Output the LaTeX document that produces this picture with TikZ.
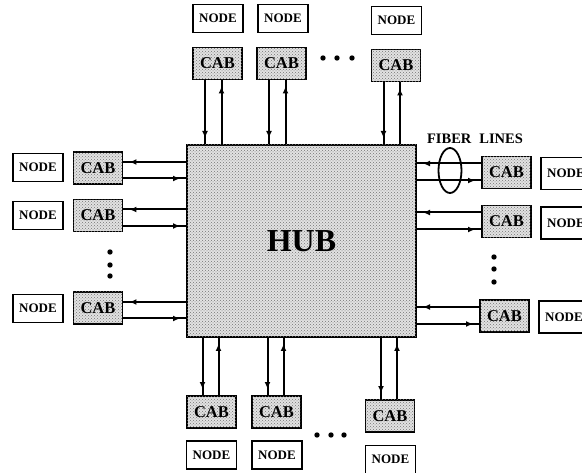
\documentclass[tikz,border=0pt]{standalone}
\usepackage{fontspec}
\setmainfont{Liberation Serif}
\usetikzlibrary{arrows.meta,decorations.markings,shapes.geometric,patterns}
\definecolor{stipple}{RGB}{226,226,226}

\begin{document}
\begin{tikzpicture}[x=1pt, y=-1pt,
    dotted fill/.style={fill=stipple, postaction={pattern=crosshatch dots, pattern color=black!55}},
    nd/.style={draw, line width=1.8pt, fill=white, minimum width=50pt, minimum height=28pt,
               inner sep=0pt, font=\bfseries\fontsize{13}{13}\selectfont},
    cab/.style={draw, line width=1.9pt, dotted fill, minimum width=49pt, minimum height=32pt,
                inner sep=0pt, font=\bfseries\fontsize{16.5}{16.5}\selectfont},
    ln/.style={line width=2pt, postaction={decorate},
               decoration={markings, mark=at position -6pt with {\arrow{Latex[length=7pt,width=6pt]}}}}]
    \clip (0,0) rectangle (582,473);
    \fill[white] (0,0) rectangle (582,473);

    % the hub
    \node[draw, line width=2pt, dotted fill, minimum width=229pt, minimum height=192pt,
          font=\bfseries\fontsize{32}{32}\selectfont] (hub) at (301.5,241) {HUB};

    % top row
    \node[nd]  (nt1) at (218,18.5)   {NODE};
    \node[nd]  (nt2) at (283,18.5)   {NODE};
    \node[nd]  (nt3) at (396.5,20.5) {NODE};
    \node[cab] (ct1) at (217.5,63.5) {CAB};
    \node[cab] (ct2) at (281.5,63.5) {CAB};
    \node[cab] (ct3) at (396,65.5)   {CAB};

    % left column
    \node[nd]  (nl1) at (38,167.5) {NODE};
    \node[nd]  (nl2) at (38,215.5) {NODE};
    \node[nd]  (nl3) at (38,308.5) {NODE};
    \node[cab] (cl1) at (98,168)   {CAB};
    \node[cab] (cl2) at (98,215.5) {CAB};
    \node[cab] (cl3) at (98,308)   {CAB};

    % right column
    \node[cab] (cr1) at (506.5,172.5) {CAB};
    \node[cab] (cr2) at (506.5,221.5) {CAB};
    \node[cab] (cr3) at (504.5,316)   {CAB};
    \node[nd, minimum height=32pt] (nr1) at (566,173.5) {NODE};
    \node[nd, minimum height=32pt] (nr2) at (566,223)   {NODE};
    \node[nd, minimum height=32pt] (nr3) at (564,317)   {NODE};

    % bottom row
    \node[cab] (cb1) at (211.5,412) {CAB};
    \node[cab] (cb2) at (276.5,412) {CAB};
    \node[cab] (cb3) at (390,416)   {CAB};
    \node[nd]  (nb1) at (211.5,455) {NODE};
    \node[nd]  (nb2) at (277,455)   {NODE};
    \node[nd]  (nb3) at (390.5,459.5) {NODE};

    % fiber lines
    \foreach \c in {ct1,ct2,ct3} {
      \draw[ln] ([xshift=-12.5pt]\c.south) -- ([xshift=-12.5pt]\c.south |- hub.north);
      \draw[ln] ([xshift=4pt]\c.south |- hub.north) -- ([xshift=4pt]\c.south);
    }
    \foreach \c in {cb1,cb2,cb3} {
      \draw[ln] ([xshift=-9pt]\c.north |- hub.south) -- ([xshift=-9pt]\c.north);
      \draw[ln] ([xshift=7pt]\c.north) -- ([xshift=7pt]\c.north |- hub.south);
    }
    \foreach \c in {cl1,cl2,cl3} {
      \draw[ln] ([yshift=6pt]\c.east -| hub.west) -- ([yshift=6pt]\c.east);
      \draw[ln] ([yshift=-10.5pt]\c.east) -- ([yshift=-10.5pt]\c.east -| hub.west);
    }
    \foreach \c in {cr1,cr2,cr3} {
      \draw[ln] ([yshift=9pt]\c.west) -- ([yshift=9pt]\c.west -| hub.east);
      \draw[ln] ([yshift=-8pt]\c.west -| hub.east) -- ([yshift=-8pt]\c.west);
    }

    \node[draw, ellipse, line width=1.8pt, minimum width=23pt, minimum height=45pt, inner sep=0pt]
      (fib) at (450,170.5) {};
    \node[font=\bfseries\fontsize{14.5}{14.5}\selectfont] (fibl) at (475,139) {FIBER\hspace{8pt}LINES};

    % dots
    \foreach \x in {323,337,352} \fill (\x,58) circle (2.7pt);
    \foreach \x in {317,331,344} \fill (\x,435) circle (2.7pt);
    \foreach \y in {252,265,276} \fill (110,\y) circle (2.7pt);
    \foreach \y in {257,269,282} \fill (494,\y) circle (2.7pt);
\end{tikzpicture}
\end{document}
